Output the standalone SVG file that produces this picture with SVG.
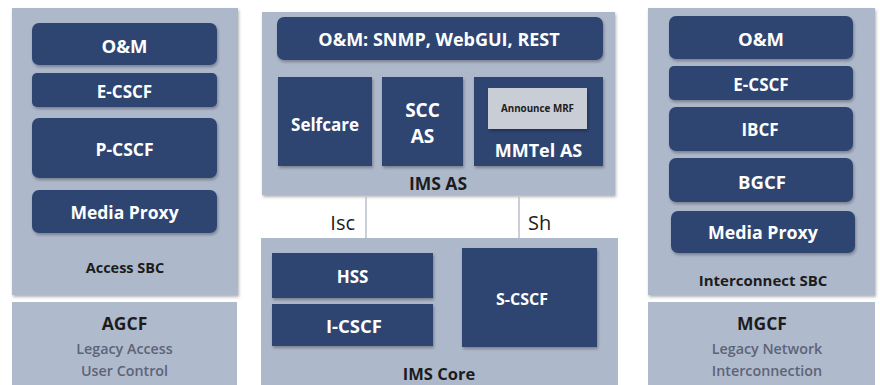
<svg xmlns="http://www.w3.org/2000/svg" width="880" height="385" viewBox="0 0 880 385">
<defs>
<filter id="sh" x="-10%" y="-10%" width="120%" height="120%">
<feDropShadow dx="1" dy="2" stdDeviation="1.5" flood-color="#000" flood-opacity="0.3"/>
</filter>
<style>
.panel{fill:#aeb8cb}
.lower{fill:#b0bacd}
.blk{fill:#2e4572}
.mrf{fill:#c9cdd6}
.w{fill:#ffffff;font-family:"Open Sans","Noto Sans",sans-serif;font-weight:bold;text-anchor:middle;dominant-baseline:central}
.d{fill:#1c1c1c;font-family:"Open Sans","Noto Sans",sans-serif;font-weight:bold;text-anchor:middle;dominant-baseline:central}
.g{fill:#5c6477;font-family:"Open Sans","Noto Sans",sans-serif;font-weight:600;text-anchor:middle;dominant-baseline:central;font-size:14.3px}
.r{fill:#1c1c1c;font-family:"Open Sans","Noto Sans",sans-serif;font-size:20px;dominant-baseline:central}
.ln{stroke:#b8bfcc;stroke-width:1.5}
</style>
</defs>
<rect width="880" height="385" fill="#ffffff"/>

<g id="access-sbc">
<rect class="panel" x="12" y="8" width="226" height="287" filter="url(#sh)"/>
<text class="d" x="125" y="267" font-size="14.5">Access SBC</text>
</g>
<g id="a-om"><rect class="blk" x="32" y="23" width="185" height="42" rx="7" filter="url(#sh)"/><text class="w" x="124.5" y="45" font-size="18.5">O&amp;M</text></g>
<g id="a-ecscf"><rect class="blk" x="32" y="73" width="185" height="34" rx="5" filter="url(#sh)"/><text class="w" x="124.5" y="91" font-size="17">E-CSCF</text></g>
<g id="a-pcscf"><rect class="blk" x="32" y="118" width="185" height="60" rx="7" filter="url(#sh)"/><text class="w" x="124.5" y="149" font-size="17.5">P-CSCF</text></g>
<g id="a-mp"><rect class="blk" x="32" y="190" width="185" height="43" rx="7" filter="url(#sh)"/><text class="w" x="124.5" y="212" font-size="17.5">Media Proxy</text></g>

<g id="agcf">
<rect class="lower" x="12" y="302" width="225" height="83"/>
<text class="d" x="124.5" y="323" font-size="17.5" font-weight="600">AGCF</text>
<text class="g" x="124.5" y="348">Legacy Access</text>
<text class="g" x="124.5" y="370">User Control</text>
</g>

<g id="ims-as">
<rect class="panel" x="262" y="12" width="353" height="183" filter="url(#sh)"/>
<text class="d" x="438" y="183" font-size="17.5">IMS AS</text>
</g>
<g id="as-om"><rect class="blk" x="277" y="17" width="326" height="43" rx="7" filter="url(#sh)"/><text class="w" x="439" y="39" font-size="18">O&amp;M: SNMP, WebGUI, REST</text></g>
<g id="selfcare"><rect class="blk" x="278" y="77" width="94" height="89" filter="url(#sh)"/><text class="w" x="325" y="124" font-size="17">Selfcare</text></g>
<g id="scc-as"><rect class="blk" x="382" y="77" width="81" height="89" filter="url(#sh)"/><text class="w" x="422.5" y="110" font-size="19">SCC</text><text class="w" x="422.5" y="136" font-size="19">AS</text></g>
<g id="mmtel-as"><rect class="blk" x="474" y="77" width="129" height="89" filter="url(#sh)"/><text class="w" x="538.5" y="150" font-size="18">MMTel AS</text></g>
<g id="announce-mrf"><rect class="mrf" x="488" y="88" width="99" height="41" filter="url(#sh)"/><text class="d" x="537.5" y="108" font-size="9.8" font-weight="600">Announce MRF</text></g>

<g id="connectors">
<line class="ln" x1="366" y1="197" x2="366" y2="238"/>
<line class="ln" x1="519" y1="197" x2="519" y2="238"/>
<text class="r" x="355" y="222" text-anchor="end">Isc</text>
<text class="r" x="528" y="222">Sh</text>
</g>

<g id="ims-core">
<rect class="panel" x="261" y="238" width="357" height="147"/>
<text class="d" x="439" y="373" font-size="16.5">IMS Core</text>
</g>
<g id="hss"><rect class="blk" x="272" y="253" width="161" height="45" filter="url(#sh)"/><text class="w" x="352.5" y="276" font-size="17">HSS</text></g>
<g id="icscf"><rect class="blk" x="272" y="304" width="161" height="42" filter="url(#sh)"/><text class="w" x="354" y="325" font-size="18.5">I-CSCF</text></g>
<g id="scscf"><rect class="blk" x="462" y="248" width="135" height="99" filter="url(#sh)"/><text class="w" x="522" y="299" font-size="16">S-CSCF</text></g>

<g id="interconnect-sbc">
<rect class="panel" x="648" y="8" width="227" height="287" filter="url(#sh)"/>
<text class="d" x="763" y="280" font-size="15">Interconnect SBC</text>
</g>
<g id="i-om"><rect class="blk" x="669" y="16" width="184" height="43" rx="7" filter="url(#sh)"/><text class="w" x="761" y="38" font-size="18.5">O&amp;M</text></g>
<g id="i-ecscf"><rect class="blk" x="669" y="66" width="184" height="34" rx="5" filter="url(#sh)"/><text class="w" x="761" y="84" font-size="17">E-CSCF</text></g>
<g id="ibcf"><rect class="blk" x="669" y="107" width="184" height="44" rx="7" filter="url(#sh)"/><text class="w" x="760" y="129" font-size="17">IBCF</text></g>
<g id="bgcf"><rect class="blk" x="669" y="158" width="184" height="44" rx="7" filter="url(#sh)"/><text class="w" x="762" y="181" font-size="18.5">BGCF</text></g>
<g id="i-mp"><rect class="blk" x="671" y="211" width="184" height="42" rx="7" filter="url(#sh)"/><text class="w" x="763" y="232" font-size="17.8">Media Proxy</text></g>

<g id="mgcf">
<rect class="lower" x="648" y="302" width="227" height="83"/>
<text class="d" x="762" y="323" font-size="17.5" font-weight="600">MGCF</text>
<text class="g" x="767" y="348">Legacy Network</text>
<text class="g" x="767" y="370">Interconnection</text>
</g>
</svg>
